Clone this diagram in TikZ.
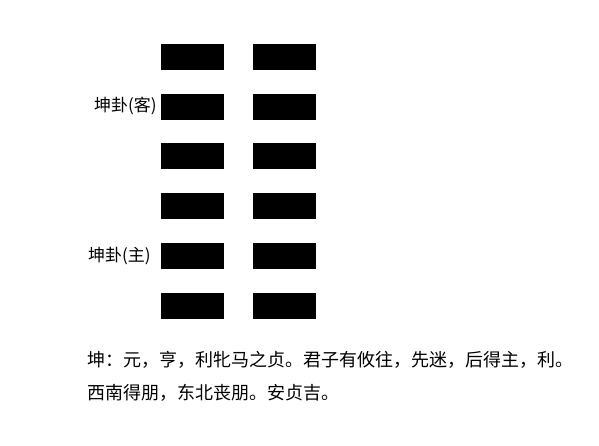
\documentclass[tikz,border=0pt]{standalone}
\usepackage{fontspec}
\newfontfamily\cjk{Noto Sans CJK SC}
\usepackage{tikz}
\usetikzlibrary{positioning}

\tikzset{
	yinbar/.style={rectangle, fill=black, inner sep=0pt, minimum width=63pt, minimum height=26pt},
	gualabel/.style={anchor=west, inner sep=0pt, font=\cjk\fontsize{17}{19}\selectfont},
	guatext/.style={anchor=west, inner sep=0pt, font=\cjk\fontsize{18}{20}\selectfont}
}

\begin{document}
\begin{tikzpicture}[x=1pt, y=-1pt]
				
				% Frame of the page
				\useasboundingbox (0,0) rectangle (599,446);
				
				% Broken lines of the two trigrams, top to bottom
				\foreach \i in {1,...,6}{
					\node[yinbar] (left\i) at (192, {57+49.75*(\i-1)}) {};
					\node[yinbar] (right\i) at (284.5, {57+49.75*(\i-1)}) {};
				}
				
				% Names of the trigrams
				\node[gualabel] (ke) at (94, 106) {坤卦(客)};
				\node[gualabel] (zhu) at (88, 256) {坤卦(主)};
				
				% Judgement
				\node[guatext] (line1) at (87, 360) {坤：元，亨，利牝马之贞。君子有攸往，先迷，后得主，利。};
				\node[guatext] (line2) at (87, 392.5) {西南得朋，东北丧朋。安贞吉。};
				
\end{tikzpicture}
\end{document}
